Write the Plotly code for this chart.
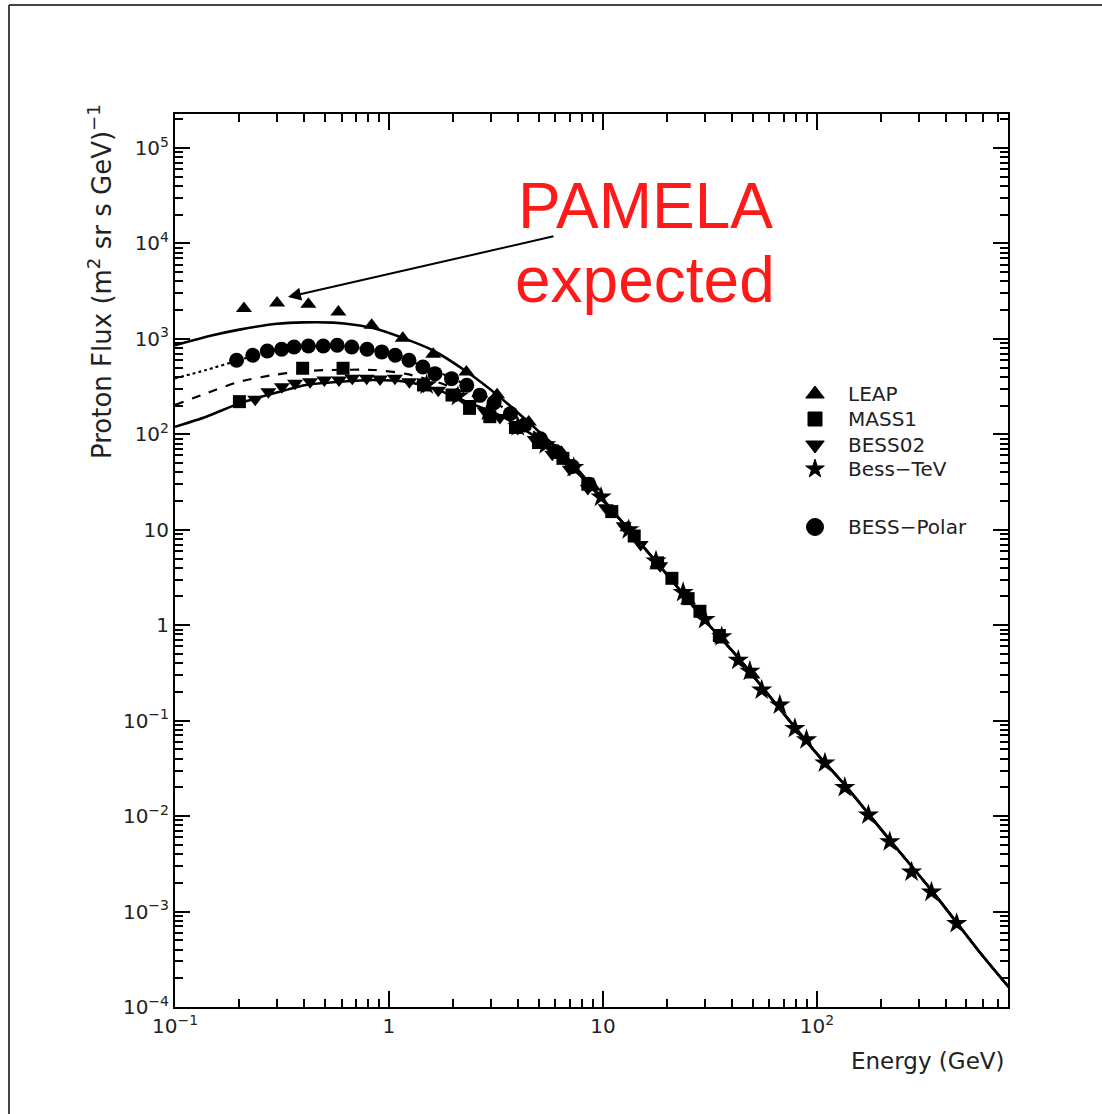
import plotly.graph_objects as go

# ---- model curves: proton flux (m^2 sr s GeV)^-1 vs kinetic energy (GeV) ----
# shared high-energy power-law part of all curves
tail_energy = [12.4, 16.6, 22.1, 30, 42.5, 56, 96, 138, 219, 350, 578, 800]
tail_flux = [11.8, 5.5, 2.57, 1.12, 0.468, 0.219, 0.0501, 0.0200, 0.00562, 0.00158, 3.72e-4, 1.55e-4]

top_energy = [0.1, 0.15, 0.2, 0.3, 0.4, 0.55, 0.7, 0.85, 1.15, 1.6, 2.3, 3.3, 4.7, 6.8, 10]
top_flux = [860, 1090, 1250, 1440, 1490, 1480, 1400, 1290, 1030, 760, 455, 245, 122, 57, 21]

dotted_energy = [0.1, 0.14, 0.2, 0.3, 0.4, 0.55, 0.7, 0.9, 1.2, 1.6, 2.0, 2.7, 3.3, 4.7, 6.8, 10]
dotted_flux = [386, 472, 600, 770, 830, 850, 815, 740, 610, 470, 385, 265, 200, 108, 54, 20.5]

dashed_energy = [0.1, 0.14, 0.2, 0.29, 0.38, 0.5, 0.85, 1.2, 1.7, 2.3, 3.3, 4.7, 6.8, 10]
dashed_flux = [203, 269, 356, 419, 453, 470, 472, 430, 350, 270, 180, 105, 53, 20.5]

bottom_energy = [0.1, 0.14, 0.2, 0.29, 0.41, 0.59, 0.85, 1.2, 1.7, 2.3, 3.3, 4.7, 6.8, 10]
bottom_flux = [120, 153, 211, 269, 329, 356, 371, 356, 290, 220, 158, 98, 51, 20.5]

# ---- measurements ----
leap_energy = [0.21, 0.30, 0.42, 0.58, 0.83, 1.16, 1.61, 2.3, 3.2, 4.5, 6.4, 9.0, 13, 18, 25, 36, 50]
leap_flux = [2080, 2380, 2300, 1910, 1390, 1015, 690, 450, 260, 135, 65, 28, 10.5, 4.4, 1.8, 0.70, 0.30]

mass1_energy = [0.2, 0.395, 0.61, 1.45, 1.97, 2.38, 2.96, 3.9, 5.0, 6.5, 8.5, 11, 14, 18, 21, 25, 28.4, 35]
mass1_flux = [220, 492, 492, 329, 258, 187, 153, 118, 82, 56, 30, 15.5, 8.6, 4.5, 3.1, 1.9, 1.4, 0.78]

bess02_energy = [0.237, 0.273, 0.316, 0.364, 0.428, 0.499, 0.584, 0.674, 0.787, 0.908, 1.066, 1.245,
                 1.45, 1.7, 2.0, 2.4, 2.8, 3.3, 4.0, 4.8, 5.8, 7.0, 8.5, 10.3, 12.5, 15, 18.5]
bess02_flux = [233, 280, 316, 343, 356, 370, 370, 386, 386, 380, 386, 356,
               320, 290, 255, 210, 175, 150, 115, 88, 62, 43, 27, 17, 11, 7, 4.2]

besstev_energy = [1.5, 2.1, 2.9, 4.0, 5.4, 7.3, 9.8, 13.2, 17.7, 23.7, 30, 35.9, 42.9, 48.6, 55.2,
                  67.1, 78.9, 89.4, 109, 135, 174, 219, 277, 343, 450]
besstev_flux = [330, 250, 175, 120, 78, 45, 22, 10, 4.7, 2.2, 1.15, 0.76, 0.43, 0.33, 0.21,
                0.146, 0.083, 0.063, 0.036, 0.020, 0.0103, 0.0054, 0.0026, 0.0016, 7.5e-4]

polar_energy = [0.194, 0.231, 0.27, 0.315, 0.36, 0.42, 0.493, 0.573, 0.67, 0.79, 0.925, 1.07, 1.24,
                1.44, 1.64, 1.96, 2.31, 2.66, 3.1, 3.7, 4.3, 5.1, 6.0, 7.2, 8.6]
polar_flux = [596, 673, 747, 778, 822, 842, 842, 857, 822, 778, 730, 673, 596,
              507, 432, 383, 326, 256, 215, 165, 125, 90, 66, 46, 30]

# ---- axis ticks ----
x_tick_vals = [0.1, 1, 10, 100]
x_tick_text = ["10<sup>−1</sup>", "1", "10", "10<sup>2</sup>"]
y_tick_vals = [1e-4, 1e-3, 1e-2, 1e-1, 1, 10, 1e2, 1e3, 1e4, 1e5]
y_tick_text = ["10<sup>−4</sup>", "10<sup>−3</sup>", "10<sup>−2</sup>", "10<sup>−1</sup>", "1", "10",
               "10<sup>2</sup>", "10<sup>3</sup>", "10<sup>4</sup>", "10<sup>5</sup>"]

legend_labels = ["LEAP", "MASS1", "BESS02", "Bess−TeV", "BESS−Polar"]
legend_symbols = ["triangle-up", "square", "triangle-down", "star", "circle"]
legend_sizes = [16, 14, 16, 14, 17]
legend_rows_px = [394, 419, 445, 469, 527]

INK = "#000000"
TEXT = "#222222"
FONT = "DejaVu Sans"

W, H = 1102, 1114
L, R, T, B = 175, 94, 114, 107
PW, PH = W - L - R, H - T - B


def px_to_paper(px, py):
    return (px - L) / PW, (H - B - py) / PH


fig = go.Figure()

# model curves
curve_styles = [
    (top_energy, top_flux, "solid", 2.6),
    (dotted_energy, dotted_flux, "dot", 2.2),
    (dashed_energy, dashed_flux, "dash", 2.2),
    (bottom_energy, bottom_flux, "solid", 2.6),
]
for e, f, dash, w in curve_styles:
    fig.add_trace(go.Scatter(
        x=e + tail_energy, y=f + tail_flux, mode="lines",
        line=dict(color=INK, width=w, dash=dash, shape="spline", smoothing=0.7),
        hoverinfo="skip", showlegend=False))

# measured points
point_sets = [
    (leap_energy, leap_flux, "triangle-up", 14),
    (mass1_energy, mass1_flux, "square", 13),
    (bess02_energy, bess02_flux, "triangle-down", 14),
    (besstev_energy, besstev_flux, "star", 16),
    (polar_energy, polar_flux, "circle", 15),
]
for (e, f, sym, size), name in zip(point_sets, legend_labels):
    fig.add_trace(go.Scatter(
        x=e, y=f, mode="markers", name=name,
        marker=dict(symbol=sym, size=size, color=INK, line=dict(width=0)),
        showlegend=False))

# legend keys drawn on an overlay axis in plot-fraction units
leg_x, _ = px_to_paper(815, 0)
leg_y = [px_to_paper(0, py)[1] for py in legend_rows_px]
fig.add_trace(go.Scatter(
    x=[leg_x] * len(leg_y), y=leg_y, xaxis="x2", yaxis="y2", mode="markers",
    marker=dict(symbol=legend_symbols, size=legend_sizes, color=INK, opacity=1,
                line=dict(width=1, color=INK)),
    cliponaxis=False, hoverinfo="skip", showlegend=False))

annotations = []
text_x, _ = px_to_paper(846, 0)
for lab, yy in zip(legend_labels, leg_y):
    annotations.append(dict(
        x=text_x, y=yy, xref="paper", yref="paper", text=lab, showarrow=False,
        xanchor="left", yanchor="middle", font=dict(family=FONT, size=20, color=TEXT)))

# axis titles
ytx, yty = px_to_paper(100, 282)
annotations.append(dict(
    x=ytx, y=yty, xref="paper", yref="paper", textangle=-90, showarrow=False,
    text="Proton Flux (m<sup>2</sup> sr s GeV)<sup>−1</sup>",
    xanchor="center", yanchor="middle", font=dict(family=FONT, size=26, color=TEXT)))
etx, ety = px_to_paper(1007, 1061)
annotations.append(dict(
    x=etx, y=ety, xref="paper", yref="paper", text="Energy (GeV)", showarrow=False,
    xanchor="right", yanchor="middle", font=dict(family=FONT, size=23, color=TEXT)))

# PAMELA note with arrow
px1, py1 = px_to_paper(645, 206)
annotations.append(dict(
    x=px1, y=py1, xref="paper", yref="paper", text="PAMELA", showarrow=False,
    xanchor="center", yanchor="middle",
    font=dict(family="Liberation Sans", size=64, color="#ff1a1a")))
px2, py2 = px_to_paper(645, 280)
annotations.append(dict(
    x=px2, y=py2, xref="paper", yref="paper", text="expected", showarrow=False,
    xanchor="center", yanchor="middle",
    font=dict(family="Liberation Sans", size=64, color="#ff1a1a")))
hx, hy = px_to_paper(288, 297)
annotations.append(dict(
    x=hx, y=hy, xref="paper", yref="paper", text="", showarrow=True,
    ax=267, ay=-61, arrowhead=2, arrowsize=1.3, arrowwidth=2, arrowcolor=INK))

# page border (left and top edges)
bx0, by0 = px_to_paper(9, 5)
bx1, by1 = px_to_paper(W, H + 5)
shapes = [
    dict(type="line", xref="paper", yref="paper", x0=bx0, x1=bx0, y0=by0, y1=by1,
         line=dict(color="#444444", width=2)),
    dict(type="line", xref="paper", yref="paper", x0=bx0, x1=bx1, y0=by0, y1=by0,
         line=dict(color="#444444", width=2)),
]

minor_x = [m * 10 ** d for d in range(-1, 3) for m in range(2, 10) if m * 10 ** d <= 800]
minor_y = [m * 10 ** d for d in range(-4, 5) for m in range(2, 10)] + [2e5]

axis_common = dict(
    type="log", showline=True, linecolor=INK, linewidth=2, mirror="allticks",
    ticks="inside", tickwidth=1.5, tickcolor=INK, showgrid=False, zeroline=False,
    tickfont=dict(family=FONT, size=20, color=TEXT), tickmode="array",
)

fig.update_layout(
    width=W, height=H,
    margin=dict(l=L, r=R, t=T, b=B),
    paper_bgcolor="white", plot_bgcolor="white",
    showlegend=False,
    xaxis=dict(axis_common, range=[-1, 2.893], tickvals=x_tick_vals, ticktext=x_tick_text,
               ticklen=16,
               minor=dict(ticks="inside", ticklen=8, tickwidth=1.5, tickcolor=INK,
                          tickmode="array", tickvals=minor_x, showgrid=False)),
    yaxis=dict(axis_common, range=[-4, 5.356], tickvals=y_tick_vals, ticktext=y_tick_text,
               ticklen=15,
               minor=dict(ticks="inside", ticklen=8, tickwidth=1.5, tickcolor=INK,
                          tickmode="array", tickvals=minor_y, showgrid=False)),
    xaxis2=dict(overlaying="x", anchor="y2", range=[0, 1], visible=False),
    yaxis2=dict(overlaying="y", anchor="x2", range=[0, 1], visible=False),
    annotations=annotations,
    shapes=shapes,
)

fig.write_html("out.html")
